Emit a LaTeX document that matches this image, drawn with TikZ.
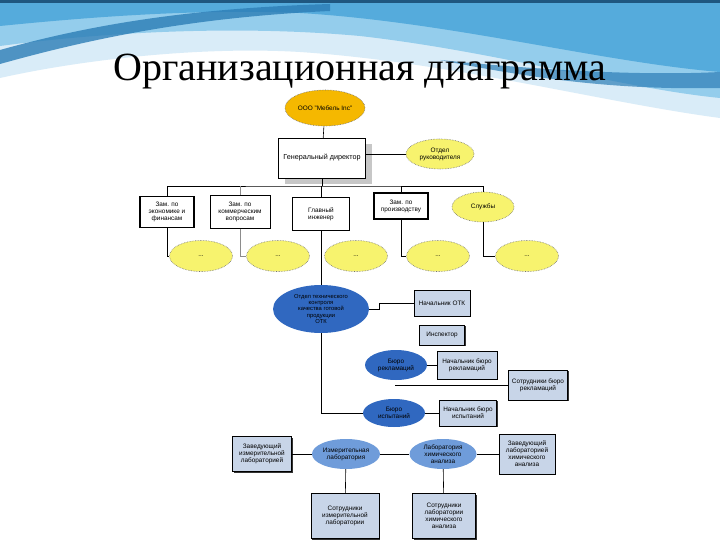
\documentclass[tikz,border=0pt]{standalone}
\usepackage{fontspec}
\setmainfont{Liberation Sans}
\newfontfamily\titlefont{Liberation Serif}
\usetikzlibrary{shapes.geometric, positioning, shadows}

\definecolor{orgorange}{HTML}{F5B800}
\definecolor{unityellow}{HTML}{F7F36E}
\definecolor{otkblue}{HTML}{3068C0}
\definecolor{labblue}{HTML}{6F9CDA}
\definecolor{cardfill}{HTML}{C8D5E8}
\definecolor{wavepale}{HTML}{D9ECF8}
\definecolor{wavelight}{HTML}{94CDEC}
\definecolor{wavemid}{HTML}{55ABDC}
\definecolor{wavedark}{HTML}{2C7DB6}

\begin{document}
\begin{tikzpicture}[
			x=1pt, y=-1pt,
			nodes = {
				align = center,
				inner sep = 0pt,
				font = \fontsize{6.4}{7}\selectfont
			},
			block/.style={
				draw,
				fill=white,
				rectangle,
				line width=0.5pt
			},
			dblblock/.style={
				block,
				line width=1.1pt
			},
			card/.style={
				draw,
				fill=cardfill,
				rectangle,
				line width=0.5pt,
				drop shadow={shadow xshift=1.3pt, shadow yshift=-1.3pt, fill=black!80, opacity=1}
			},
			unit/.style={
				ellipse,
				fill=unityellow,
				draw=black!55,
				densely dotted,
				line width=0.6pt
			},
			bureau/.style={
				ellipse,
				fill=otkblue
			},
			lab/.style={
				ellipse,
				fill=labblue
			},
			lines/.style={
				line width=0.6pt
			}
		]
			\useasboundingbox (0,0) rectangle (720,540);

			% background waves
			\fill[white] (0,0) rectangle (720,540);
			\fill[wavepale] (0,0) -- (720,0) -- (720,118)
				.. controls (600,102) and (450,62) .. (300,52)
				.. controls (200,46) and (80,60) .. (0,78) -- cycle;
			\fill[wavelight] (0,0) -- (720,0) -- (720,98)
				.. controls (620,88) and (500,52) .. (360,36)
				.. controls (250,26) and (120,30) .. (0,46) -- cycle;
			\fill[wavemid] (0,0) -- (720,0) -- (720,72)
				.. controls (600,62) and (450,22) .. (300,13)
				.. controls (200,9) and (100,16) .. (0,26) -- cycle;
			\fill[wavedark, opacity=0.8] (0,50)
				.. controls (100,22) and (200,8) .. (330,4)
				-- (330,11) .. controls (200,17) and (100,36) .. (0,64) -- cycle;
			\fill[wavedark, opacity=0.7] (440,60)
				.. controls (540,70) and (640,76) .. (720,72)
				-- (720,88) .. controls (620,90) and (540,80) .. (440,60) -- cycle;
			\fill[wavedark!70!black] (0,0) rectangle (720,3);

			\node[font=\titlefont\fontsize{40}{44}\selectfont, anchor=base] (title) at (360,81) {Организационная диаграмма};

			% top management
			\node[ellipse, fill=orgorange, draw=black!55, densely dotted, line width=0.6pt,
				minimum width=80pt, minimum height=36pt] (org) at (325,108) {ООО "Мебель Inc"};

			\node[block, minimum width=87pt, minimum height=40pt, font=\fontsize{7.2}{8}\selectfont,
				drop shadow={shadow xshift=6pt, shadow yshift=-6pt, fill=black!22, opacity=1}]
				(gd) at (322,158) {Генеральный директор};

			\node[unit, minimum width=68pt, minimum height=30pt] (dept) at (440,154) {Отдел\\руководителя};

			% deputies
			\node[dblblock, minimum width=54pt, minimum height=31pt] (econ) at (167,212) {Зам. по\\экономике и\\финансам};
			\node[block, minimum width=60pt, minimum height=33pt] (comm) at (240,212) {Зам. по\\коммерческим\\вопросам};
			\node[dblblock, minimum width=57pt, minimum height=33pt] (eng) at (321,214) {Главный\\инженер};
			\node[dblblock, minimum width=54pt, minimum height=26pt] (prod) at (401,206) {Зам. по\\производству};
			\node[unit, minimum width=62pt, minimum height=30pt] (serv) at (483,207) {Службы};

			\foreach \x [count=\i] in {201,278,356,438,527}
				\node[unit, minimum width=63pt, minimum height=31pt] (sub\i) at (\x,256) {...};

			\coordinate (bus) at (322,186);
			\draw[lines] (org) -- (gd);
			\draw[lines] (gd.east |- dept.west) -- (dept.west);
			\draw[lines] (gd.south) -- (bus);
			\draw[lines] (econ.north) |- (bus) -| (serv.north);
			\draw[lines, black!45] (comm.north) -- (comm.north |- bus);
			\draw[lines] (eng.north) -- (eng.north |- bus);
			\draw[lines] (prod.north) -- (prod.north |- bus);
			\draw[lines] (econ.south) |- (sub1.west);
			\draw[lines, black!45] (comm.south) |- (sub2.west);
			\draw[lines] (prod.south) |- (sub4.west);
			\draw[lines] (serv.south) |- (sub5.west);

			% quality control
			\node[bureau, minimum width=96pt, minimum height=48pt, font=\fontsize{5.8}{6.4}\selectfont]
				(otk) at (321,309) {Отдел технического\\контроля\\качества готовой\\продукции\\ОТК};
			\node[card, minimum width=56pt, minimum height=26pt] (otkhead) at (442,303) {Начальник ОТК};
			\node[card, minimum width=45pt, minimum height=20pt] (insp) at (442,335) {Инспектор};

			\node[bureau, minimum width=62pt, minimum height=30pt] (claims) at (396,365) {Бюро\\рекламаций};
			\node[card, minimum width=60pt, minimum height=28pt] (claimshead) at (467,365) {Начальник бюро\\рекламаций};
			\node[card, minimum width=59pt, minimum height=30pt] (claimsstaff) at (538,385) {Сотрудники бюро\\рекламаций};
			\coordinate (claimsend) at (395,385);

			\node[bureau, minimum width=62pt, minimum height=28pt] (tests) at (394,413) {Бюро\\испытаний};
			\node[card, minimum width=57pt, minimum height=26pt] (testshead) at (468,413) {Начальник бюро\\испытаний};

			\draw[lines] (eng.south) -- (otk.north);
			\draw[lines] (otk.east) -- ++(10,0) |- (otkhead.west);
			\draw[lines] (claims) -- (claimshead);
			\draw[lines] (claimsend) -- (claimsstaff.west);
			\draw[lines] (otk.south) |- (tests.west);
			\draw[lines] (tests) -- (testshead);

			% laboratories
			\node[lab, minimum width=68pt, minimum height=30pt] (measlab) at (346,454) {Измерительная\\лаборатория};
			\node[lab, minimum width=67pt, minimum height=30pt] (chemlab) at (443,454) {Лаборатория\\химического\\анализа};
			\node[card, minimum width=59pt, minimum height=35pt] (measboss) at (262,454) {Заведующий\\измерительной\\лабораторией};
			\node[card, minimum width=56pt, minimum height=40pt] (chemboss) at (527,454) {Заведующий\\лабораторией\\химического\\анализа};
			\node[card, minimum width=68pt, minimum height=45pt] (measstaff) at (345,516) {Сотрудники\\измерительной\\лаборатории};
			\node[card, minimum width=63pt, minimum height=45pt] (chemstaff) at (444,516) {Сотрудники\\лаборатории\\химического\\анализа};

			\draw[lines] (measboss) -- (measlab);
			\draw[lines] (measlab) -- (chemlab);
			\draw[lines] (chemlab) -- (chemboss);
			\draw[lines] (measlab) -- (measstaff);
			\draw[lines] (chemlab) -- (chemstaff);
		\end{tikzpicture}
\end{document}
